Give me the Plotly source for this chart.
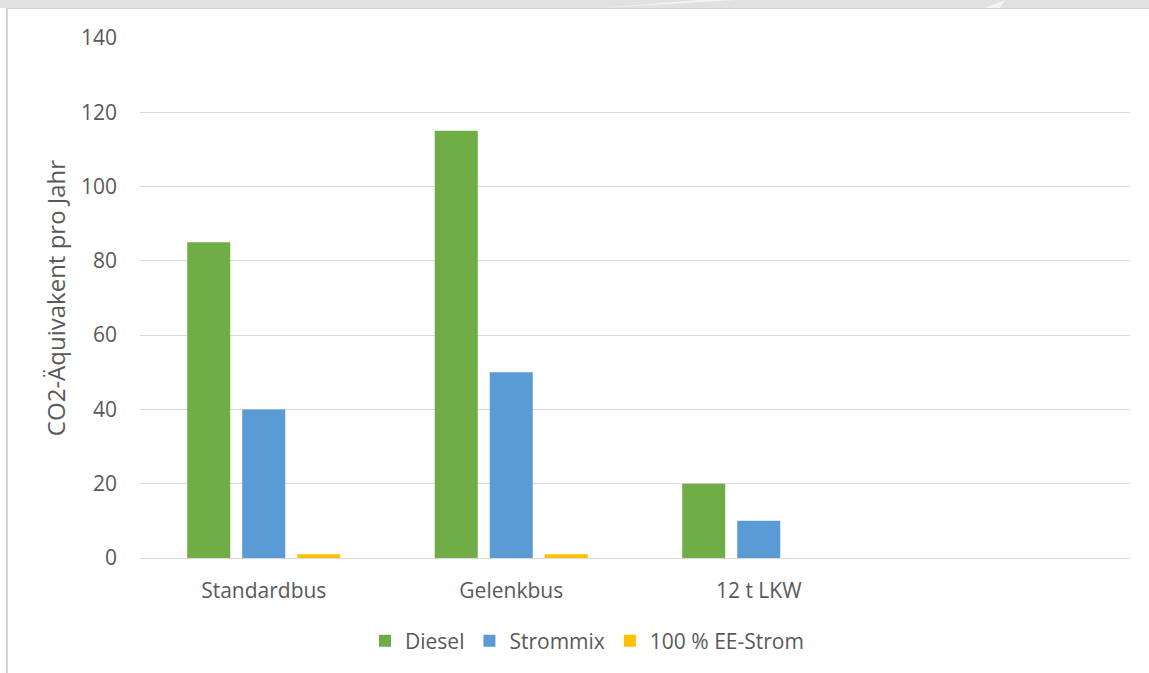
import plotly.graph_objects as go

categories = ["Standardbus", "Gelenkbus", "12 t LKW"]
diesel = [85, 115, 20]
strommix = [40, 50, 10]
ee_strom = [1, 1, 0]

series = [
    ("Diesel", diesel, "#70AD47"),
    ("Strommix", strommix, "#5B9BD5"),
    ("100 % EE-Strom", ee_strom, "#FFC000"),
]

FONT = "'Open Sans', sans-serif"
TXT = "#595959"

fig = go.Figure()
for name, vals, col in series:
    fig.add_trace(go.Bar(x=categories, y=vals, name=name, marker_color=col,
                         marker_line_width=0))

W, H = 1149, 673
L, R, T, B = 140, 19, 38, 115
pw, ph = W - L - R, H - T - B


def px(x):
    return (x - L) / pw


def py(y):
    return (H - B - y) / ph


shapes = [
    # top band
    dict(type="rect", xref="paper", yref="paper", x0=px(0), x1=px(W), y0=py(8), y1=py(0),
         fillcolor="#E1E1E1", line_width=0, layer="below"),
    dict(type="path", xref="paper", yref="paper",
         path=f"M {px(600)},{py(8)} L {px(735)},{py(0)} L {px(700)},{py(0)} Z",
         fillcolor="#F4F4F4", line_width=0),
    dict(type="path", xref="paper", yref="paper",
         path=f"M {px(985)},{py(8)} L {px(1005)},{py(0)} L {px(1000)},{py(8)} Z",
         fillcolor="#F4F4F4", line_width=0),
    dict(type="line", xref="paper", yref="paper", x0=px(7), x1=px(W), y0=py(8.5), y1=py(8.5),
         line=dict(color="#D4D4D4", width=1)),
    # left frame
    dict(type="line", xref="paper", yref="paper", x0=px(7), x1=px(7), y0=py(8), y1=py(H),
         line=dict(color="#D4D4D4", width=2)),
]

fig.update_layout(
    width=W, height=H,
    margin=dict(l=L, r=R, t=T, b=B),
    paper_bgcolor="white", plot_bgcolor="white",
    barmode="group", bargap=0.333, bargroupgap=0.218,
    font=dict(family=FONT, size=21, color=TXT),
    showlegend=True,
    legend=dict(orientation="h", x=px(587), xanchor="center", y=py(641), yanchor="middle",
                font=dict(size=21, color=TXT), itemwidth=30, tracegroupgap=0,
                traceorder="normal"),
    shapes=shapes,
    xaxis=dict(range=[-0.5, 3.5], showgrid=False, showline=True, linecolor="#D9D9D9",
               linewidth=1, ticks="", tickfont=dict(size=21, color=TXT), ticklabelstandoff=14),
    yaxis=dict(range=[0, 140], dtick=20, showgrid=True, gridcolor="#D9D9D9", gridwidth=1,
               zeroline=True, zerolinecolor="#D9D9D9", zerolinewidth=1,
               showline=False, ticks="", tickfont=dict(size=21, color=TXT),
               ticklabelstandoff=22,
               title=dict(text="CO2-Äquivakent pro Jahr", font=dict(size=24, color=TXT),
                          standoff=8)),
)

fig.write_html("out.html")
